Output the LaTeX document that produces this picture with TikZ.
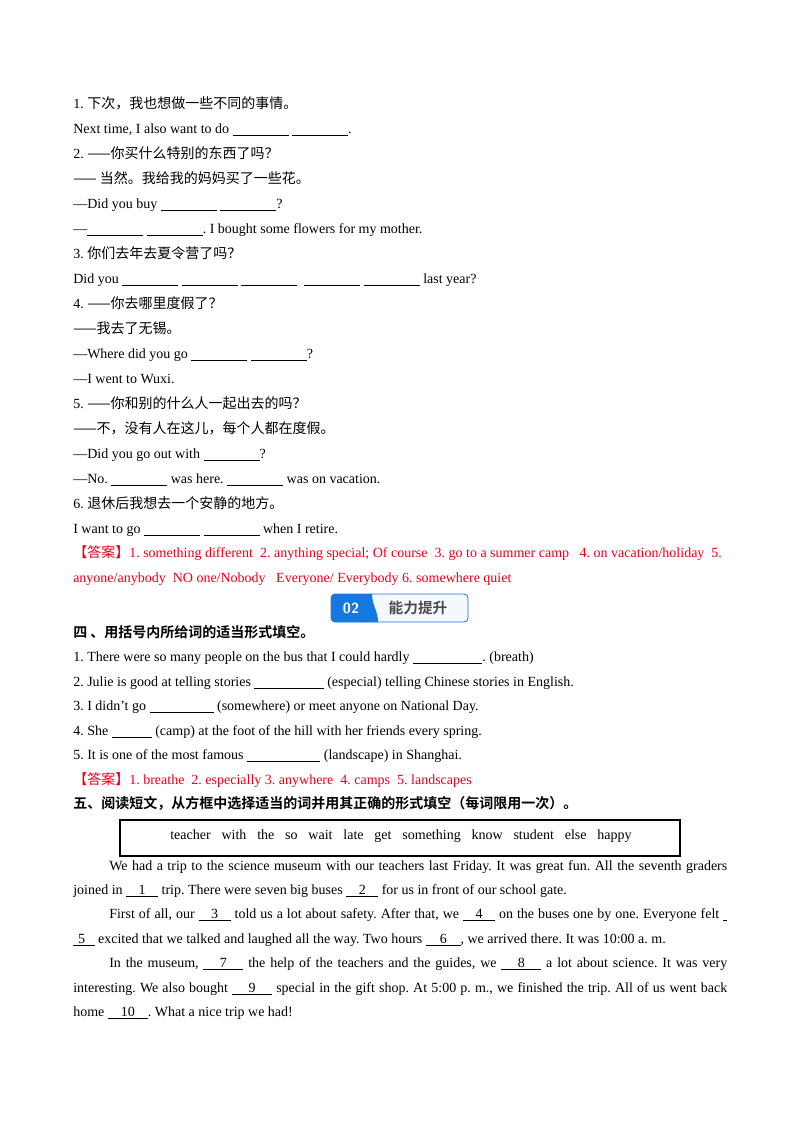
\documentclass[tikz,border=0pt]{standalone}
\usepackage{fontspec}
\setmainfont{Liberation Serif}
\newfontfamily\cjk{Noto Sans CJK SC}
\newfontfamily\cjkb{Noto Sans CJK SC Bold}
\definecolor{ansred}{HTML}{E8001C}
\definecolor{badgeblue}{HTML}{1577E0}
\newcommand{\ubl}[1]{\underline{\hbox to #1{\hfil}}}
\newcommand{\unum}[2]{\underline{\hbox to #1{\hfil #2\hfil}}}
\frenchspacing
\begin{document}
\begin{tikzpicture}[x=0.75pt,y=-0.75pt,
  ln/.style={anchor=base west,inner sep=0pt,font=\fontsize{10.5pt}{12pt}\selectfont},
  ans/.style={ln,text=ansred}]
\useasboundingbox (0,0) rectangle (800,1132);
\fill[white] (0,0) rectangle (800,1132);
\node[ln] (l1) at (73,108) {1. {\cjk 下次，我也想做一些不同的事情。}};
\node[ln] (l2) at (73,133) {Next time, I also want to do \ubl{42pt} \ubl{42pt}.};
\node[ln] (l3) at (73,158) {2. {\cjk ——你买什么特别的东西了吗？}};
\node[ln] (l4) at (73,183) {{\cjk —— 当然。我给我的妈妈买了一些花。}};
\node[ln] (l5) at (73,208) {—Did you buy \ubl{42pt} \ubl{42pt}?};
\node[ln] (l6) at (73,233) {—\ubl{42pt} \ubl{42pt}. I bought some flowers for my mother.};
\node[ln] (l7) at (73,258) {3. {\cjk 你们去年去夏令营了吗？}};
\node[ln] (l8) at (73,283) {Did you \ubl{42pt} \ubl{42pt} \ubl{42pt}\ \ \ubl{42pt} \ubl{42pt} last year?};
\node[ln] (l9) at (73,308) {4. {\cjk ——你去哪里度假了？}};
\node[ln] (l10) at (73,333) {{\cjk ——我去了无锡。}};
\node[ln] (l11) at (73,358) {—Where did you go \ubl{42pt} \ubl{42pt}?};
\node[ln] (l12) at (73,383) {—I went to Wuxi.};
\node[ln] (l13) at (73,408) {5. {\cjk ——你和别的什么人一起出去的吗？}};
\node[ln] (l14) at (73,433) {{\cjk ——不，没有人在这儿，每个人都在度假。}};
\node[ln] (l15) at (73,458) {—Did you go out with \ubl{42pt}?};
\node[ln] (l16) at (73,483) {—No. \ubl{42pt} was here. \ubl{42pt} was on vacation.};
\node[ln] (l17) at (73,508) {6. {\cjk 退休后我想去一个安静的地方。}};
\node[ln] (l18) at (73,533) {I want to go \ubl{42pt} \ubl{42pt} when I retire.};
\node[ans] (a1) at (73,557) {{\cjk 【答案】}1. something different\ \ 2. anything special; Of course\ \ 3. go to a summer camp\ \ \ 4. on vacation/holiday\ \ 5.};
\node[ans] (a2) at (73,582) {anyone/anybody\ \ NO one/Nobody\ \ \ Everyone/ Everybody 6. somewhere quiet};
% badge
\draw[badgeblue,fill=blue!3,line width=0.6pt,rounded corners=3pt] (331,594) rectangle (468,622);
\fill[badgeblue,rounded corners=3pt] (331,594) rectangle (370,622);
\fill[badgeblue] (360,594) -- (372,594) to[out=-90,in=90] (378,622) -- (360,622) -- cycle;
\node[text=white,font=\sffamily\bfseries\fontsize{11pt}{12pt}\selectfont] (b1) at (351,608) {02};
\node[text=black!70,font=\cjkb\fontsize{11pt}{12pt}\selectfont] (b2) at (418,608) {能力提升};
\node[ln,font=\cjkb\fontsize{10.5pt}{12pt}\selectfont] (t4) at (73,637) {四\ 、用括号内所给词的适当形式填空。};
\node[ln] (m1) at (73,661) {1. There were so many people on the bus that I could hardly \ubl{52pt}. (breath)};
\node[ln] (m2) at (73,686) {2. Julie is good at telling stories \ubl{52pt} (especial) telling Chinese stories in English.};
\node[ln] (m3) at (73,710) {3. I didn't go \ubl{48pt} (somewhere) or meet anyone on National Day.};
\node[ln] (m4) at (73,735) {4. She \ubl{30pt} (camp) at the foot of the hill with her friends every spring.};
\node[ln] (m5) at (73,759) {5. It is one of the most famous \ubl{55pt} (landscape) in Shanghai.};
\node[ans] (a3) at (73,784) {{\cjk 【答案】}1. breathe\ \ 2. especially 3. anywhere\ \ 4. camps\ \ 5. landscapes};
\node[ln,font=\cjkb\fontsize{10.5pt}{12pt}\selectfont] (t5) at (73,808) {五、阅读短文，从方框中选择适当的词并用其正确的形式填空（每词限用一次）。};
\draw[line width=0.8pt] (120,820) rectangle (680,856);
\node[ln] (box) at (170,839) {\hbox to 346pt{teacher\hfil with\hfil the\hfil so\hfil wait\hfil late\hfil get\hfil something\hfil know\hfil student\hfil else\hfil happy}};
\node[ln] (p1) at (109,870) {\hbox to 463.5pt{We had a trip to the science museum with our teachers last Friday. It was great fun. All the seventh graders}};
\node[ln] (p2) at (73,894) {joined in \unum{24pt}{1} trip. There were seven big buses \unum{24pt}{2} for us in front of our school gate.};
\node[ln] (p3) at (109,918) {\hbox to 463.5pt{First of all, our \unum{24pt}{3} told us a lot about safety. After that, we \unum{24pt}{4} on the buses one by one. Everyone felt \ubl{3pt}}};
\node[ln] (p4) at (73,943) {\unum{16pt}{5\hfil} excited that we talked and laughed all the way. Two hours \unum{26pt}{6}, we arrived there. It was 10:00 a. m.};
\node[ln] (p5) at (109,967) {\hbox to 463.5pt{In the museum, \unum{30pt}{7} the help of the teachers and the guides, we \unum{30pt}{8} a lot about science. It was very}};
\node[ln] (p6) at (73,992) {\hbox to 490.5pt{interesting. We also bought \unum{30pt}{9} special in the gift shop. At 5:00 p. m., we finished the trip. All of us went back}};
\node[ln] (p7) at (73,1016) {home \unum{30pt}{10}. What a nice trip we had!};
\end{tikzpicture}
\end{document}
